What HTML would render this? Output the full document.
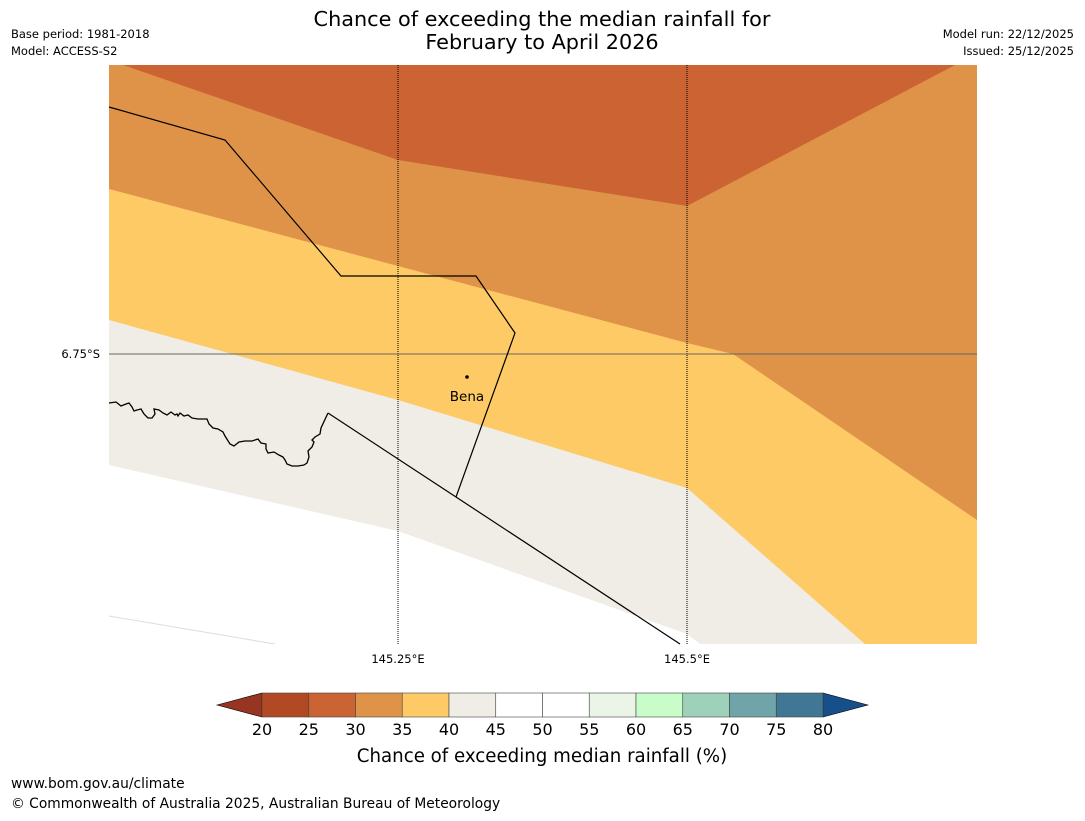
<!DOCTYPE html>
<html><head><meta charset="utf-8"><style>
body{margin:0;background:#fff;font-family:"Liberation Sans","DejaVu Sans",sans-serif;}
svg text{font-family:"DejaVu Sans","Liberation Sans",sans-serif;}
</style></head><body>
<svg width="1085" height="816" viewBox="0 0 1085 816">
<text x="542" y="26" font-size="20.8" text-anchor="middle">Chance of exceeding the median rainfall for</text>
<text x="542" y="49" font-size="20.8" text-anchor="middle">February to April 2026</text>
<text x="11" y="38" font-size="11.5">Base period: 1981-2018</text>
<text x="11" y="55" font-size="11.5">Model: ACCESS-S2</text>
<text x="1074" y="38" font-size="11.5" text-anchor="end">Model run: 22/12/2025</text>
<text x="1074" y="55" font-size="11.5" text-anchor="end">Issued: 25/12/2025</text>
<g>
<rect x="109" y="65" width="868" height="579" fill="#df9348"/>
<polygon points="123,65 398,160 687,206 955,65" fill="#cb6332"/>
<polygon points="109,189 398,266 687,343 733,354 977,520 977,644 109,644" fill="#fdca66"/>
<polygon points="109,320 398,400 687,488 865,644 109,644" fill="#f0ece6"/>
<polygon points="109,465 398,531 687,634 700,644 109,644" fill="#ffffff"/>
<polyline points="109,616 275,644" fill="none" stroke="#ddd" stroke-width="1"/>
<line x1="398" y1="65" x2="398" y2="644" stroke="#000" stroke-width="1" stroke-dasharray="1,1"/>
<line x1="687" y1="65" x2="687" y2="644" stroke="#000" stroke-width="1" stroke-dasharray="1,1"/>
<line x1="109" y1="354" x2="977" y2="354" stroke="#666" stroke-width="1"/>
<polyline points="109,107 225,140 341,276 476,276 515,333 456,497" fill="none" stroke="#000" stroke-width="1.2"/>
<polyline points="328,413 456,497 680,644" fill="none" stroke="#000" stroke-width="1.2"/>
<polyline points="109,403 116,402 121,406 126,404 129,403 132,407 134,411 137,410 141,409 144,414 148,418 152,418 155,414 154,409 159,410 163,413 167,415 171,412 175,415 177,414 178,416 180,413 184,416 188,415 192,418 198,419 207,419 209,424 213,428 218,429 223,432 225,436 230,444 234,446 239,442 245,441 252,441 258,439 261,443 266,444 266,449 268,453 274,452 279,455 283,457 285,460 287,464 292,466 298,466 304,465 307,463 309,457 308,451 312,447 314,442 312,440 315,437 320,434 321,428 328,413" fill="none" stroke="#000" stroke-width="1.3"/>
<circle cx="467" cy="377" r="1.8" fill="#000"/>
<text x="467" y="401" font-size="13.5" text-anchor="middle">Bena</text>
</g>
<text x="100" y="358" font-size="11.5" text-anchor="end">6.75°S</text>
<text x="398" y="663" font-size="11.5" text-anchor="middle">145.25°E</text>
<text x="687" y="663" font-size="11.5" text-anchor="middle">145.5°E</text>
<g id="cbar"></g>
<text x="542" y="762" font-size="18.2" text-anchor="middle">Chance of exceeding median rainfall (%)</text>
<text x="11" y="788" font-size="13.8">www.bom.gov.au/climate</text>
<text x="11" y="808" font-size="13.8">© Commonwealth of Australia 2025, Australian Bureau of Meteorology</text>
</svg>
<script>
const ticks=[20,25,30,35,40,45,50,55,60,65,70,75,80];
const colors=["#b14a24","#cb6332","#df9348","#fdca66","#f0ece6","#ffffff","#ffffff","#eaf5e8","#c8fcc8","#9dd1ba","#6fa5a8","#3f7795"];
const g=document.getElementById('cbar');const ns="http://www.w3.org/2000/svg";
const x0=262,x1=823,y0=693,y1=717;const sx=v=>x0+(v-20)/60*(x1-x0);
function mk(t,a){const e=document.createElementNS(ns,t);for(const k in a)e.setAttribute(k,a[k]);g.appendChild(e);return e;}
let p=mk('polygon',{points:`217,705 ${x0},${y0} ${x0},${y1}`,fill:'#983422',stroke:'#000','stroke-width':0.6});


p=mk('polygon',{points:`868,705 ${x1},${y0} ${x1},${y1}`,fill:'#174f8a',stroke:'#000','stroke-width':0.6});


colors.forEach((c,i)=>{const r=mk('rect',{x:sx(ticks[i]),y:y0,width:sx(ticks[i+1])-sx(ticks[i]),height:y1-y0,fill:c,stroke:'#444','stroke-width':0.6});

});
ticks.forEach(v=>{const t=mk('text',{x:sx(v),y:735,'font-size':16,'text-anchor':'middle'});t.textContent=v;

});
</script>
</body></html>
